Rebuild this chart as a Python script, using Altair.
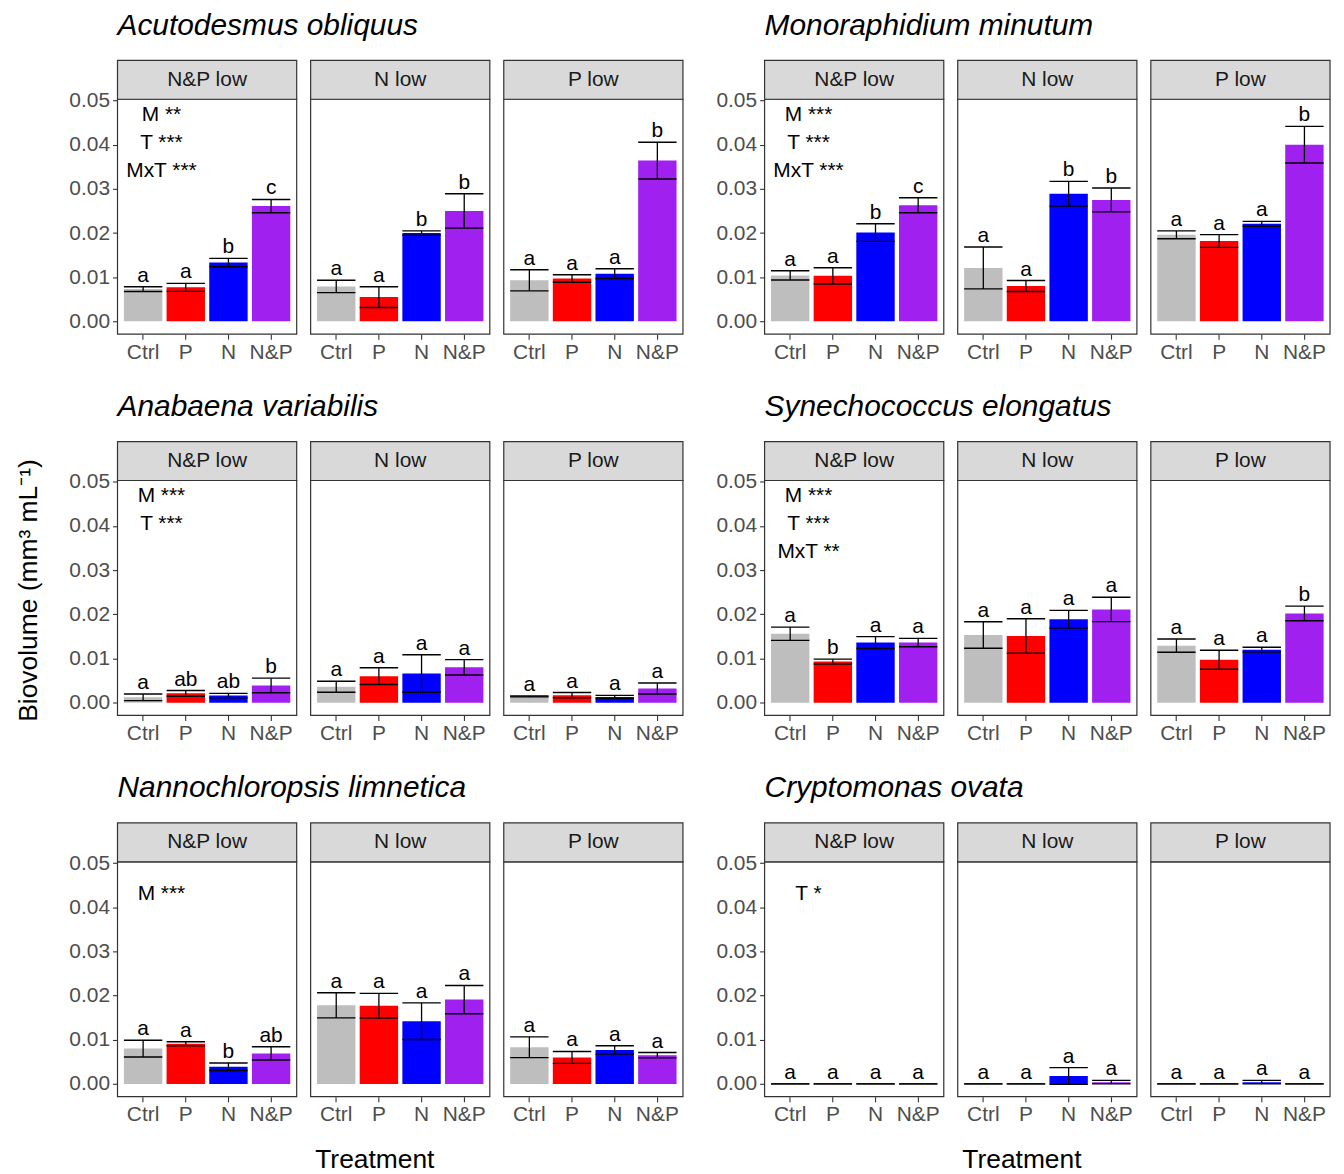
import altair as alt
import pandas as pd

FONT = "Liberation Sans"

species = ["Acutodesmus obliquus", "Monoraphidium minutum",
           "Anabaena variabilis", "Synechococcus elongatus",
           "Nannochloropsis limnetica", "Cryptomonas ovata"]
conds = ["N&P low", "N low", "P low"]
treats = ["Ctrl", "P", "N", "N&P"]
colors = ["#BEBEBE", "#FF0000", "#0000FF", "#A020F0"]

# order inside each list: N&P low (Ctrl,P,N,N&P), N low (...), P low (...)
means = {
    "Acutodesmus obliquus": [0.0073, 0.0077, 0.0133, 0.0261, 0.0079, 0.0055, 0.0200, 0.0250, 0.0093, 0.0097, 0.0108, 0.0364],
    "Monoraphidium minutum": [0.0104, 0.0103, 0.0201, 0.0263, 0.0121, 0.0080, 0.0289, 0.0275, 0.0196, 0.0182, 0.0221, 0.0400],
    "Anabaena variabilis": [0.0012, 0.0021, 0.0016, 0.0039, 0.0036, 0.0060, 0.0066, 0.0080, 0.0014, 0.0017, 0.0013, 0.0032],
    "Synechococcus elongatus": [0.0156, 0.0093, 0.0136, 0.0136, 0.0153, 0.0151, 0.0189, 0.0211, 0.0129, 0.0097, 0.0120, 0.0202],
    "Nannochloropsis limnetica": [0.0080, 0.0091, 0.0039, 0.0069, 0.0178, 0.0177, 0.0142, 0.0191, 0.0083, 0.0060, 0.0077, 0.0065],
    "Cryptomonas ovata": [0.0, 0.0, 0.0, 0.0, 0.0, 0.0, 0.0018, 0.0004, 0.0, 0.0, 0.0004, 0.0],
}
ses = {
    "Acutodesmus obliquus": [0.00055, 0.0009, 0.00095, 0.0015, 0.0014, 0.00235, 0.0005, 0.0039, 0.0024, 0.00085, 0.0011, 0.00415],
    "Monoraphidium minutum": [0.00105, 0.00185, 0.0020, 0.0017, 0.00475, 0.00125, 0.0028, 0.0027, 0.0009, 0.00145, 0.00055, 0.00415],
    "Anabaena variabilis": [0.00075, 0.00065, 0.0005, 0.00165, 0.00125, 0.0019, 0.00425, 0.00175, 0.0001, 0.0006, 0.00035, 0.00125],
    "Synechococcus elongatus": [0.0015, 0.00055, 0.00135, 0.00095, 0.0030, 0.0039, 0.0020, 0.00275, 0.0015, 0.00215, 0.00055, 0.00165],
    "Nannochloropsis limnetica": [0.0019, 0.00045, 0.00085, 0.0015, 0.00285, 0.0028, 0.00415, 0.0032, 0.00235, 0.00135, 0.00095, 0.0006],
    "Cryptomonas ovata": [0.0, 0.0, 0.0, 0.0, 0.0, 0.0, 0.0019, 0.0004, 0.0, 0.0, 0.0004, 0.0],
}
letters = {
    "Acutodesmus obliquus": ["a", "a", "b", "c", "a", "a", "b", "b", "a", "a", "a", "b"],
    "Monoraphidium minutum": ["a", "a", "b", "c", "a", "a", "b", "b", "a", "a", "a", "b"],
    "Anabaena variabilis": ["a", "ab", "ab", "b", "a", "a", "a", "a", "a", "a", "a", "a"],
    "Synechococcus elongatus": ["a", "b", "a", "a", "a", "a", "a", "a", "a", "a", "a", "b"],
    "Nannochloropsis limnetica": ["a", "a", "b", "ab", "a", "a", "a", "a", "a", "a", "a", "a"],
    "Cryptomonas ovata": ["a"] * 12,
}
annotations = {
    "Acutodesmus obliquus": ["M **", "T ***", "MxT ***"],
    "Monoraphidium minutum": ["M ***", "T ***", "MxT ***"],
    "Anabaena variabilis": ["M ***", "T ***"],
    "Synechococcus elongatus": ["M ***", "T ***", "MxT **"],
    "Nannochloropsis limnetica": ["M ***"],
    "Cryptomonas ovata": ["T *"],
}
y_ticks = [0.0, 0.01, 0.02, 0.03, 0.04, 0.05]
y_title = "Biovolume (mm³ mL⁻¹)"
x_title = "Treatment"

rows = []
for sp in species:
    for ci, c in enumerate(conds):
        for ti, t in enumerate(treats):
            k = ci * 4 + ti
            rows.append(dict(species=sp, cond=c, treat=t, mean=means[sp][k],
                             se=ses[sp][k], letter=letters[sp][k]))
df = pd.DataFrame(rows)

W, H = 180, 236
STEP = W / 4.2
BW = STEP * 0.9
ydom = [-0.0029, 0.0503]
xscale = alt.Scale(domain=treats, paddingInner=0.1, paddingOuter=0.15)
yscale = alt.Scale(domain=ydom, nice=False, zero=False)
cscale = alt.Scale(domain=treats, range=colors)


def panel(sp, cond, row_idx, block):
    sub = df[(df.species == sp) & (df.cond == cond)]
    first = cond == conds[0]
    base = alt.Chart(sub).transform_calculate(
        lo="datum.mean - datum.se", hi="datum.mean + datum.se")

    xt = x_title if (row_idx == 2 and cond == conds[1]) else None
    xaxis = alt.Axis(title=xt, labelAngle=0, labelFont=FONT, labelFontSize=21,
                     labelColor="#4D4D4D", tickColor="#333333", tickWidth=1.1,
                     tickSize=5, labelPadding=2, domain=False, grid=False,
                     titleFont=FONT, titleFontSize=26.5, titleFontWeight="normal",
                     titleColor="black", titlePadding=22, titleX=64)
    if first:
        yt = y_title if (row_idx == 1 and block == 0) else None
        yaxis = alt.Axis(title=yt, values=y_ticks, format=".2f", labelFont=FONT,
                         labelFontSize=21, labelColor="#4D4D4D", tickColor="#333333",
                         tickWidth=1.1, tickSize=5, labelPadding=3, domain=False,
                         grid=False, titleFont=FONT, titleFontSize=26.5,
                         titleFontWeight="normal", titleColor="black",
                         titlePadding=26, titleY=110)
    else:
        yaxis = None

    X = alt.X("treat:N", sort=treats, scale=xscale, axis=xaxis)

    bars = base.mark_bar().encode(
        x=X, y=alt.Y("mean:Q", scale=yscale, axis=yaxis),
        color=alt.Color("treat:N", scale=cscale, legend=None))
    rule = base.mark_rule(color="black", strokeWidth=1.3).encode(
        x=X, y=alt.Y("lo:Q", scale=yscale, axis=yaxis), y2="hi:Q")
    cap_hi = base.mark_tick(color="black", thickness=1.4, size=BW, opacity=1).encode(
        x=X, y=alt.Y("hi:Q", scale=yscale, axis=yaxis))
    cap_lo = base.mark_tick(color="black", thickness=1.4, size=BW, opacity=1).encode(
        x=X, y=alt.Y("lo:Q", scale=yscale, axis=yaxis))
    lett = base.mark_text(baseline="alphabetic", dy=-5, font=FONT, fontSize=21,
                          color="black").encode(
        x=X, y=alt.Y("hi:Q", scale=yscale, axis=yaxis), text="letter:N")

    one = pd.DataFrame({"cond": [cond], "sp": [sp]})
    border = alt.Chart(one).mark_rect(fill="white", fillOpacity=0, stroke="#333333",
                                      strokeWidth=1.2).encode(
        x=alt.value(0), x2=alt.value(W), y=alt.value(0), y2=alt.value(H))
    strip = alt.Chart(one).mark_rect(fill="#D9D9D9", stroke="#333333",
                                     strokeWidth=1.2).encode(
        x=alt.value(0), x2=alt.value(W), y=alt.value(-39), y2=alt.value(0))
    strip_txt = alt.Chart(one).mark_text(font=FONT, fontSize=21, color="#1A1A1A",
                                         baseline="middle", align="center").encode(
        x=alt.value(W / 2), y=alt.value(-19.5), text="cond:N")

    layers = [bars, rule, cap_hi, cap_lo, lett]
    if first:
        lines = annotations[sp]
        adf = pd.DataFrame({"txt": lines, "i": list(range(len(lines))),
                            "n": [len(lines)] * len(lines), "treat": ["Ctrl"] * len(lines)})
        ann = alt.Chart(adf).transform_calculate(
            ay="(datum.n == 1 ? 0.043 : 0.0468) - datum.i * 0.0064"
        ).mark_text(font=FONT, fontSize=21, color="black", baseline="middle",
                    align="center", dx=STEP / 2 - 3).encode(
            x=X, y=alt.Y("ay:Q", scale=yscale, axis=yaxis), text="txt:N")
        layers.append(ann)
    layers += [border, strip, strip_txt]
    if first:
        title = alt.Chart(one).mark_text(font=FONT, fontSize=30, fontStyle="italic",
                                         color="black", align="left",
                                         baseline="alphabetic").encode(
            x=alt.value(0), y=alt.value(-65), text="sp:N")
        layers.append(title)
    return alt.layer(*layers).properties(width=W, height=H)


def spacer():
    return alt.Chart(pd.DataFrame({"a": [0]})).mark_text(opacity=0).encode(
        x=alt.value(0), y=alt.value(0), text=alt.value(" ")
    ).properties(width=54, height=H)


cells = []
for r in range(3):
    left, right = species[2 * r], species[2 * r + 1]
    for c in conds:
        cells.append(panel(left, c, r, 0))
    cells.append(spacer())
    for c in conds:
        cells.append(panel(right, c, r, 1))

chart = alt.concat(*cells, columns=7, spacing=alt.RowColnumber(row=147, column=14),
                   bounds="flush").properties(
    padding={"left": 8, "top": 0, "right": 5, "bottom": 0}
).configure_view(strokeWidth=0)

chart.save("out.html", embed_options={"renderer": "svg", "actions": False})
